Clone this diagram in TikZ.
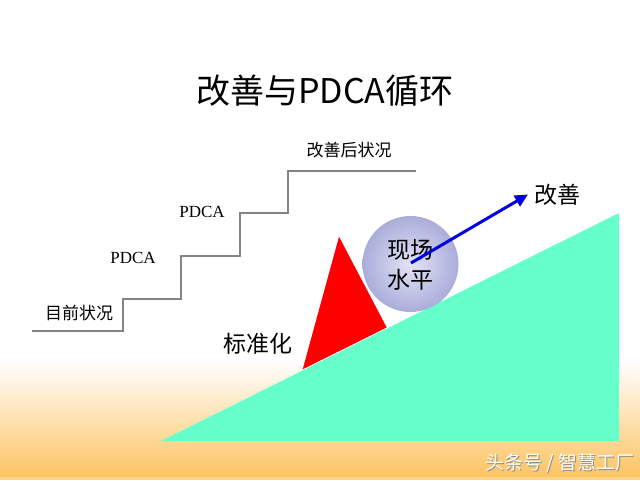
\documentclass[tikz,border=0pt]{standalone}
\usepackage{fontspec}
\setmainfont{Liberation Serif}
\newfontfamily\cjk{Noto Sans CJK SC}
\usetikzlibrary{arrows.meta}
\definecolor{bgorange}{HTML}{FCC463}
\definecolor{mintfill}{HTML}{66FFCC}
\definecolor{ballin}{HTML}{E4E4F6}
\definecolor{ballout}{HTML}{A9ADD9}
\definecolor{arrowblue}{HTML}{0000E0}
\definecolor{stairgray}{HTML}{858585}
\tikzset{
  lbl/.style={inner sep=0pt, font=\fontsize{17}{20}\selectfont},
  biglbl/.style={inner sep=0pt, font=\cjk\fontsize{23}{30}\selectfont},
  stairline/.style={draw=stairgray, line width=1.6pt},
  upArrow/.style={draw=arrowblue, line width=3pt, -{Triangle[length=13pt,width=12pt]}},
}
\begin{document}
\begin{tikzpicture}[x=1pt,y=-1pt]
\useasboundingbox (0,0) rectangle (640,480);
\fill[white] (0,0) rectangle (640,480);
\shade[top color=white,bottom color=bgorange] (0,360) rectangle (640,476.5);
\fill[bgorange!75!white] (0,476.5) rectangle (640,480);
% title
\node[inner sep=0pt, font=\cjk\fontsize{34}{38}\selectfont] (title) at (325,91) {改善与PDCA循环};
% staircase
\draw[stairline] (31.7,331) -| (123,299) -| (181,256) -| (240,213) -| (288,171) -- (416,171);
\node[lbl] (cur) at (79,313) {\cjk 目前状况};
\node[lbl] (p1) at (133,258) {PDCA};
\node[lbl] (p2) at (202,212) {PDCA};
\node[lbl] (after) at (349,150) {\cjk 改善后状况};
% slope
\fill[mintfill] (161,441) -- (619,441) -- (619,213) -- cycle;
% wedge
\fill[red] (302.7,369.3) -- (339,236.7) -- (386.7,327.5) -- cycle;
\node[biglbl] (std) at (258,344) {标准化};
% ball
\node[circle, minimum size=96pt, inner sep=0pt, shade, inner color=ballin, outer color=ballout] (ball) at (410.5,264) {};
\node[biglbl, align=center] (balltxt) at (410,265) {现场\\水平};
% arrow
\coordinate (as) at (411,263);
\node[biglbl] (imp) at (557,195) {改善};
\coordinate (ae) at (528,194.5);
\draw[upArrow] (as) -- (ae);
% watermark
\node[inner sep=0pt, font=\cjk\fontsize{19}{22}\selectfont, text=black!45] (wms) at (560.8,463.8) {头条号 / 智慧工厂};
\node[inner sep=0pt, font=\cjk\fontsize{19}{22}\selectfont, text=white!95!yellow] (wm) at (560,463) {头条号 / 智慧工厂};
\end{tikzpicture}
\end{document}
